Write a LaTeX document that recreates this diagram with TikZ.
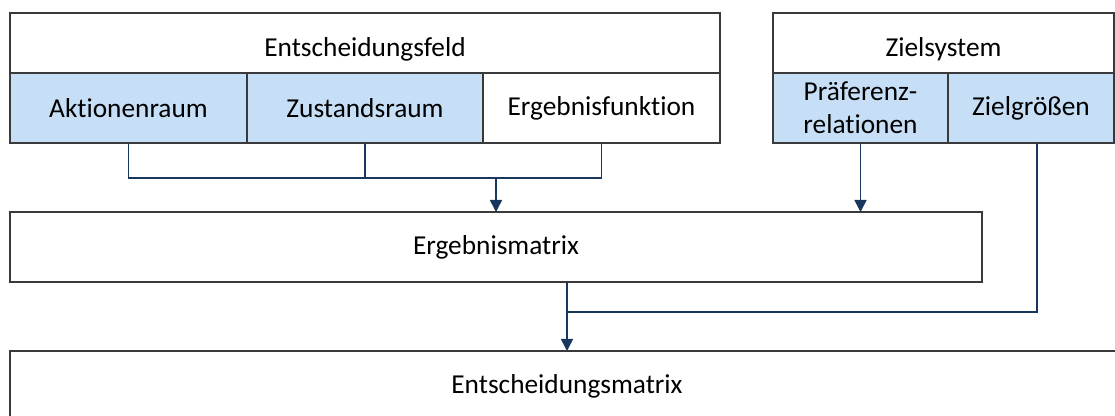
\documentclass[tikz,border=0pt]{standalone}
\usepackage{fontspec}
\setmainfont{Carlito}[Ligatures=NoCommon]
\usetikzlibrary{arrows.meta}
\definecolor{cellblue}{HTML}{C6DFF7}
\definecolor{boxline}{HTML}{3A3A3A}
\definecolor{flow}{HTML}{17375E}
\begin{document}
\begin{tikzpicture}[x=0.75pt,y=-0.75pt,
  box/.style={draw=boxline,line width=1.1pt,rectangle,inner sep=0pt,outer sep=0pt,
    font=\fontsize{20.5}{24.5}\selectfont,align=center},
  head/.style={box,fill=white,minimum height=45pt,text height=20pt,text depth=0pt},
  cell/.style={box,minimum height=52.5pt},
  blue/.style={fill=cellblue},
  link/.style={draw=flow,line width=1pt},
  flowarrow/.style={link,line width=1.2pt,-{Triangle[width=9pt,length=9pt]}}]
\useasboundingbox (0,0) rectangle (1115,416);
\clip (0,0) rectangle (1115,416);

% Entscheidungsfeld
\node[head,minimum width=532.5pt] (ef) at (365,43) {Entscheidungsfeld};
\node[cell,blue,minimum width=177.75pt] (ak) at (128.5,108) {Aktionenraum};
\node[cell,blue,minimum width=177pt] (zu) at (365,108) {Zustandsraum};
\node[cell,fill=white,minimum width=177.75pt] (fu) at (601.5,108) {Ergebnisfunktion};

% Zielsystem
\node[head,minimum width=255.75pt] (zs) at (943.5,43) {Zielsystem};
\node[cell,blue,minimum width=131.25pt] (pr) at (860.5,108) {Präferenz-\\relationen};
\node[cell,blue,minimum width=124.5pt] (zg) at (1031,108) {Zielgrößen};

% Ergebnismatrix
\node[cell,fill=white,minimum width=729pt] (erg) at (496,247) {Ergebnismatrix};

% Entscheidungsmatrix (runs past the right and bottom edge)
\node[cell,fill=white,minimum width=835.5pt] (em) at (567,386) {Entscheidungsmatrix};

% junction points
\coordinate (merge) at (496,178);
\coordinate (zgout) at (1037,143);
\coordinate (join) at (567,312);

% Entscheidungsfeld -> Ergebnismatrix
\draw[link] (ak.south) |- (merge -| fu.south) -- (fu.south);
\draw[link] (zu.south) -- (zu.south |- merge);
\draw[flowarrow] (merge) -- (erg.north);

% Praeferenzrelationen -> Ergebnismatrix
\draw[flowarrow] (pr.south) -- (pr.south |- erg.north);

% Ergebnismatrix + Zielgroessen -> Entscheidungsmatrix
\draw[link] (zgout) |- (join);
\draw[flowarrow] (em.north |- erg.south) -- (em.north);
\end{tikzpicture}
\end{document}
